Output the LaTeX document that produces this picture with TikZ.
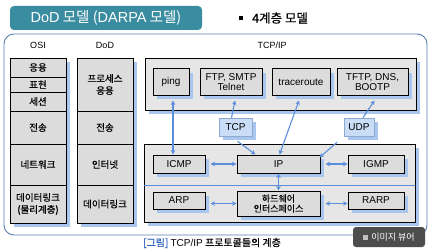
\documentclass[tikz,border=0pt]{standalone}
\usepackage{fontspec}
\setmainfont{Noto Sans CJK KR}[FakeBold=0.5]
\newfontfamily\krlight{Noto Sans CJK KR}
\newfontfamily\lat{Liberation Sans}
\usetikzlibrary{arrows.meta,calc,shadows}
\definecolor{teal1}{HTML}{3A8CA0}
\definecolor{framec}{HTML}{5A7DB0}
\definecolor{boxgray}{HTML}{DCDCDC}
\definecolor{outgray}{HTML}{E6E6E6}
\definecolor{shadowb}{HTML}{A9C6EE}
\definecolor{arrowb}{HTML}{5B8FDB}
\definecolor{protofill}{HTML}{C9DEF6}
\definecolor{protoline}{HTML}{8EA9CF}
\definecolor{capblue}{HTML}{2F62C0}
\definecolor{viewer}{HTML}{4D4D4D}
\tikzset{
  bshadow/.style={drop shadow={shadow xshift=4pt,shadow yshift=-4pt,fill=shadowb,opacity=1}},
  colbox/.style={draw=black, line width=0.8pt, fill=boxgray, bshadow, minimum width=56pt,
    inner sep=0pt, align=center, font=\fontsize{9.5}{12}\selectfont},
  appbox/.style={draw=black, line width=1pt, fill=boxgray, bshadow, inner sep=0pt,
    align=center, font=\lat\fontsize{10}{10.5}\selectfont},
  outerbox/.style={draw=black, line width=0.9pt, fill=outgray, bshadow, inner sep=0pt},
  protobox/.style={draw=protoline, line width=0.6pt, fill=protofill, bshadow, inner sep=0pt,
    font=\lat\fontsize{10}{10.5}\selectfont},
  hdr/.style={inner sep=0pt, font=\lat\fontsize{9}{10}\selectfont},
  arr/.style={draw=arrowb, line width=1.1pt, -{Stealth[length=4.5pt,width=4.5pt]}},
  darr/.style={draw=arrowb, line width=1.1pt, {Stealth[length=4.5pt,width=4.5pt]}-{Stealth[length=4.5pt,width=4.5pt]}},
}
\begin{document}
\begin{tikzpicture}[x=1pt,y=-1pt]
\useasboundingbox[fill=white] (0,0) rectangle (435,251);
% frame
\node[draw=framec, line width=0.9pt, rounded corners=10pt, minimum width=423pt,
  minimum height=201pt, inner sep=0pt] (frame) at (215.5,134.5) {};
% title
\node[fill=teal1, rounded corners=4pt, minimum width=192pt, minimum height=24pt,
  inner sep=0pt, text=white, font=\krlight\fontsize{14.5}{16}\selectfont] (title) at (106,18)
  {{\lat DoD} 모델 ({\lat DARPA} 모델)};
\node[anchor=west, inner sep=0pt, font=\fontsize{12.5}{14}\selectfont] (sub) at (239,18)
  {\raisebox{2.5pt}{\rule{4pt}{4pt}}\hspace{9pt}4계층 모델};
% headers
\node[hdr] (hosi) at (38,45) {OSI};
\node[hdr] (hdod) at (105,45) {DoD};
\node[hdr] (htcp) at (272,45) {TCP/IP};
% OSI column
\node[colbox, minimum height=19pt] (osi1) at (38,67.5) {응용};
\node[colbox, minimum height=15pt] (osi2) at (38,84.5) {표현};
\node[colbox, minimum height=19pt] (osi3) at (38,101.5) {세션};
\node[colbox, minimum height=33pt] (osi4) at (38,127.5) {전송};
\node[colbox, minimum height=41pt] (osi5) at (38,164.5) {네트워크};
\node[colbox, minimum height=38pt] (osi6) at (38,204) {데이터링크\\(물리계층)};
% DoD column
\node[colbox, minimum height=53pt] (dod1) at (105,84.5) {프로세스\\응용};
\node[colbox, minimum height=33pt] (dod2) at (105,127.5) {전송};
\node[colbox, minimum height=41pt] (dod3) at (105,164.5) {인터넷};
\node[colbox, minimum height=38pt] (dod4) at (105,204) {데이터링크};
% TCP/IP application layer
\node[outerbox, minimum width=271pt, minimum height=52pt] (app) at (280.5,84) {};
\node[appbox, minimum width=36pt, minimum height=26pt] (ping) at (171,82) {ping};
\node[appbox, minimum width=62pt, minimum height=26pt] (ftp) at (231,82) {FTP, SMTP\\Telnet};
\node[appbox, minimum width=58pt, minimum height=26pt] (trace) at (301,82) {traceroute};
\node[appbox, minimum width=71pt, minimum height=26pt] (tftp) at (372.5,82) {TFTP, DNS,\\BOOTP};
% transport
\node[protobox, minimum width=33pt, minimum height=18pt] (tcp) at (235.5,127) {TCP};
\node[protobox, minimum width=30pt, minimum height=18pt] (udp) at (359,127) {UDP};
% internet + link
\node[outerbox, minimum width=271pt, minimum height=78pt] (low) at (279.5,183) {};
\draw[arrowb, line width=0.8pt] (low.west |- 0,185) -- (low.east |- 0,185);
\node[appbox, minimum width=52pt, minimum height=18pt] (icmp) at (179,164) {ICMP};
\node[appbox, minimum width=83pt, minimum height=18pt] (ip) at (278.5,164) {IP};
\node[appbox, minimum width=56pt, minimum height=18pt] (igmp) at (376,164) {IGMP};
\node[appbox, minimum width=52pt, minimum height=17pt] (arp) at (179,200.5) {ARP};
\node[appbox, minimum width=83pt, minimum height=25pt, font=\fontsize{9}{10}\selectfont] (hw) at (278.5,203.5) {하드웨어\\인터스페이스};
\node[appbox, minimum width=56pt, minimum height=17pt] (rarp) at (376,200.5) {RARP};
% arrows
\draw[darr] ($(ping.south)+(2,5)$) -- ($(ping.south |- icmp.north)+(2,0)$);
\draw[arr] ($(tcp.north)+(-4,0)$) -- ($(ftp.south)+(4,5)$);
\draw[darr] ($(trace.south)+(-2,5)$) -- ($(ip.north)+(1,0)$);
\draw[arr] ($(udp.north)+(4,0)$) -- ($(tftp.south)+(2,5)$);
\draw[arr] ($(tcp.south)+(2,5)$) -- ($(ip.north)+(-23,0)$);
\draw[arr] ($(udp.south)+(-22,6)$) -- ($(ip.north east)+(-1,3)$);
\draw[darr] ($(icmp.east)+(5,0)$) -- (ip.west);
\draw[darr] ($(ip.east)+(5,0)$) -- (igmp.west);
\draw[darr] (ip.south) -- (hw.north);
\draw[darr] ($(arp.east |- hw.west)+(5,0)$) -- (hw.west);
\draw[darr] ($(hw.east)+(5,0)$) -- (rarp.west |- hw.west);
% caption
\node[anchor=west, inner sep=0pt, font=\fontsize{10}{12}\selectfont] (cap) at (143,243)
  {\textcolor{capblue}{[그림]} {\lat TCP/IP} 프로토콜들의 계층};
% viewer badge
\node[fill=viewer, rounded corners=3pt, minimum width=72pt, minimum height=20pt,
  inner sep=0pt, text=white, font=\krlight\fontsize{9}{10}\selectfont] (view) at (389,237)
  {\textcolor{lightgray}{\rule{5pt}{5pt}}\hspace{3pt}이미지 뷰어};
\end{tikzpicture}
\end{document}
